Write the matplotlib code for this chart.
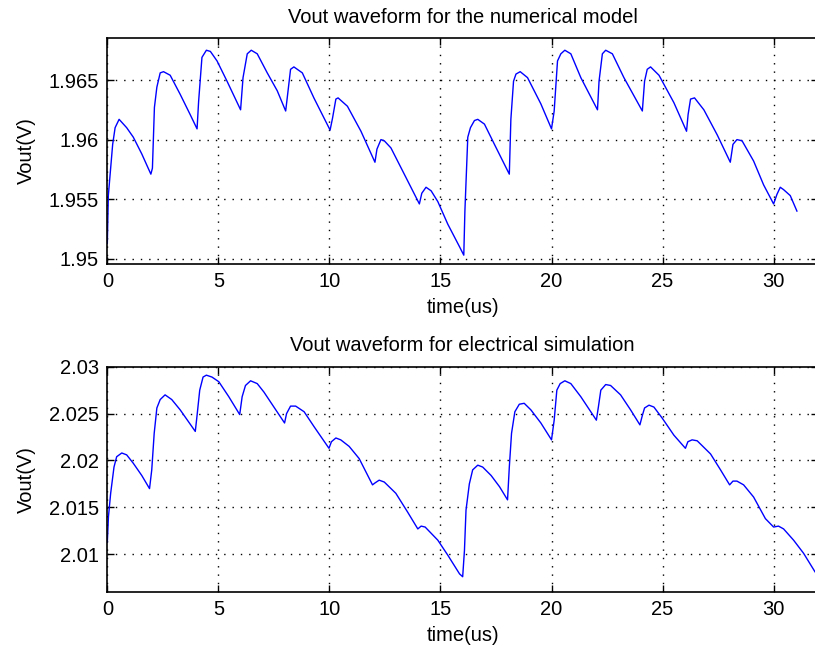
import matplotlib
matplotlib.use("Agg")
import matplotlib.pyplot as plt

plt.rcParams['font.family'] = ['Liberation Sans', 'DejaVu Sans']

## Data
t_model = [0, 0.045, 0.24, 0.35, 0.53, 0.87, 1.17, 1.55, 1.96,
           2.03, 2.12, 2.23, 2.38, 2.53, 2.83, 3.28, 3.73, 4.04,
           4.11, 4.26, 4.46, 4.64, 4.94, 5.39, 6.0,
           6.11, 6.3, 6.48, 6.75, 7.2, 7.65, 8.03,
           8.1, 8.25, 8.4, 8.78, 9.3, 10.03,
           10.14, 10.29, 10.39, 10.81, 11.42, 12.05,
           12.14, 12.32, 12.47, 12.77, 13.37, 14.05,
           14.16, 14.35, 14.58, 14.88, 15.33, 15.86, 16.05,
           16.1, 16.23, 16.35, 16.53, 16.68, 16.98, 17.43, 18.1,
           18.17, 18.29, 18.4, 18.59, 18.92, 19.52, 20.0,
           20.12, 20.27, 20.42, 20.6, 20.87, 21.32, 22.07,
           22.14, 22.29, 22.44, 22.74, 23.26, 24.09,
           24.19, 24.31, 24.46, 24.84, 25.51, 26.08,
           26.15, 26.26, 26.44, 26.86, 27.46, 28.05,
           28.17, 28.35, 28.58, 29.1, 29.55, 30.0,
           30.15, 30.3, 30.45, 30.75, 31.05]
v_model = [1.9513, 1.9553, 1.9596, 1.9610, 1.9617, 1.9610, 1.9602, 1.9588, 1.9571,
           1.9576, 1.9627, 1.9644, 1.9656, 1.9657, 1.9654, 1.9638, 1.9621, 1.9609,
           1.9632, 1.9669, 1.9675, 1.9674, 1.9666, 1.9649, 1.9625,
           1.9652, 1.9672, 1.9675, 1.9672, 1.9656, 1.9641, 1.9624,
           1.9635, 1.9659, 1.9661, 1.9656, 1.9635, 1.9608,
           1.9618, 1.9634, 1.9635, 1.9628, 1.9607, 1.9581,
           1.9592, 1.9600, 1.9599, 1.9593, 1.9571, 1.9546,
           1.9555, 1.9560, 1.9557, 1.9548, 1.9529, 1.9510, 1.9503,
           1.9540, 1.9602, 1.9610, 1.9616, 1.9617, 1.9613, 1.9596, 1.9571,
           1.9617, 1.9649, 1.9655, 1.9657, 1.9652, 1.9630, 1.9609,
           1.9624, 1.9666, 1.9672, 1.9675, 1.9672, 1.9652, 1.9625,
           1.9649, 1.9672, 1.9675, 1.9672, 1.9652, 1.9624,
           1.9649, 1.9659, 1.9661, 1.9654, 1.9631, 1.9607,
           1.9621, 1.9634, 1.9635, 1.9625, 1.9604, 1.9581,
           1.9596, 1.9600, 1.9599, 1.9582, 1.9562, 1.9546,
           1.9554, 1.9560, 1.9558, 1.9553, 1.9540]

t_sim = [0, 0.05, 0.15, 0.3, 0.42, 0.65, 0.87, 1.17, 1.55, 1.9,
         2.0, 2.11, 2.23, 2.38, 2.6, 2.9, 3.28, 3.96,
         4.04, 4.16, 4.31, 4.46, 4.71, 5.02, 5.47, 5.96,
         6.07, 6.22, 6.45, 6.75, 7.05, 7.5, 7.98,
         8.07, 8.25, 8.48, 8.86, 9.31, 9.98,
         10.09, 10.29, 10.51, 10.89, 11.34, 11.94,
         12.05, 12.24, 12.47, 12.99, 13.52, 13.98,
         14.13, 14.31, 14.88, 15.33, 15.86, 16.0,
         16.08, 16.15, 16.3, 16.45, 16.68, 16.9, 17.28, 17.66, 18.02,
         18.1, 18.2, 18.35, 18.55, 18.77, 19.07, 19.52, 20.0,
         20.12, 20.24, 20.39, 20.6, 20.87, 21.32, 22.02,
         22.11, 22.22, 22.44, 22.66, 23.11, 23.56, 23.98,
         24.09, 24.19, 24.39, 24.61, 24.99, 25.51, 26.03,
         26.14, 26.33, 26.56, 27.16, 27.61, 28.02,
         28.17, 28.35, 28.65, 29.1, 29.63, 30.0,
         30.22, 30.45, 30.9, 31.35, 31.87, 32.0]
v_sim = [2.0113, 2.0140, 2.0165, 2.0193, 2.0204, 2.0208, 2.0206, 2.0197, 2.0184, 2.0170,
         2.0190, 2.0229, 2.0256, 2.0265, 2.0270, 2.0265, 2.0254, 2.0231,
         2.0248, 2.0275, 2.0289, 2.0291, 2.0289, 2.0284, 2.0268, 2.0249,
         2.0268, 2.0280, 2.0285, 2.0282, 2.0273, 2.0257, 2.0240,
         2.0250, 2.0258, 2.0258, 2.0252, 2.0236, 2.0213,
         2.0220, 2.0224, 2.0222, 2.0215, 2.0202, 2.0174,
         2.0176, 2.0179, 2.0177, 2.0165, 2.0145, 2.0127,
         2.0130, 2.0129, 2.0115, 2.0099, 2.0079, 2.0076,
         2.0104, 2.0147, 2.0175, 2.0190, 2.0195, 2.0193, 2.0184, 2.0172, 2.0158,
         2.0193, 2.0229, 2.0252, 2.0260, 2.0261, 2.0254, 2.0240, 2.0222,
         2.0243, 2.0275, 2.0282, 2.0285, 2.0282, 2.0268, 2.0243,
         2.0257, 2.0275, 2.0281, 2.0280, 2.0270, 2.0254, 2.0238,
         2.0248, 2.0256, 2.0259, 2.0257, 2.0245, 2.0227, 2.0213,
         2.0220, 2.0222, 2.0221, 2.0207, 2.0190, 2.0174,
         2.0178, 2.0178, 2.0174, 2.0161, 2.0138, 2.0129,
         2.0130, 2.0127, 2.0115, 2.0101, 2.0081, 2.0079]

x_ticks = [0, 5, 10, 15, 20, 25, 30]
y_ticks_model = [1.95, 1.955, 1.96, 1.965]
y_ticks_sim = [2.01, 2.015, 2.02, 2.025, 2.03]
y_labels_model = ["1.95", "1.955", "1.96", "1.965"]
y_labels_sim = ["2.01", "2.015", "2.02", "2.025", "2.03"]

FS = 14.5

def style_axes(ax, title, yticks, ylabels, ylim):
    ax.set_xlim(0, 32)
    ax.set_ylim(*ylim)
    ax.set_xticks(x_ticks)
    ax.set_xticklabels([str(t) for t in x_ticks])
    ax.set_yticks(yticks)
    ax.set_yticklabels(ylabels)
    ax.tick_params(direction='in', length=5, width=1.0, top=True, right=True,
                   labelsize=FS, pad=6, colors='k')
    ax.grid(True, color='k', linestyle=(0, (1, 5)), linewidth=1.0)
    for s in ax.spines.values():
        s.set_linewidth(1.2)
        s.set_color('k')
    ax.set_title(title, fontsize=FS, pad=11)
    ax.set_xlabel("time(us)", fontsize=FS, labelpad=5)
    ax.set_ylabel("Vout(V)", fontsize=FS, labelpad=9)

fig = plt.figure(figsize=(8.15, 6.55), dpi=100)
ax1 = fig.add_axes([0.1317, 0.5977, 0.872, 0.3438])
ax2 = fig.add_axes([0.1317, 0.0966, 0.872, 0.3435])

ax1.plot(t_model, v_model, color=(0, 0, 1), linewidth=1.0)
style_axes(ax1, "Vout waveform for the numerical model",
           y_ticks_model, y_labels_model, (1.9496, 1.9685))

ax2.plot(t_sim, v_sim, color=(0, 0, 1), linewidth=1.0)
style_axes(ax2, "Vout waveform for electrical simulation",
           y_ticks_sim, y_labels_sim, (2.006, 2.03))

fig.savefig("out.png", dpi=100)
